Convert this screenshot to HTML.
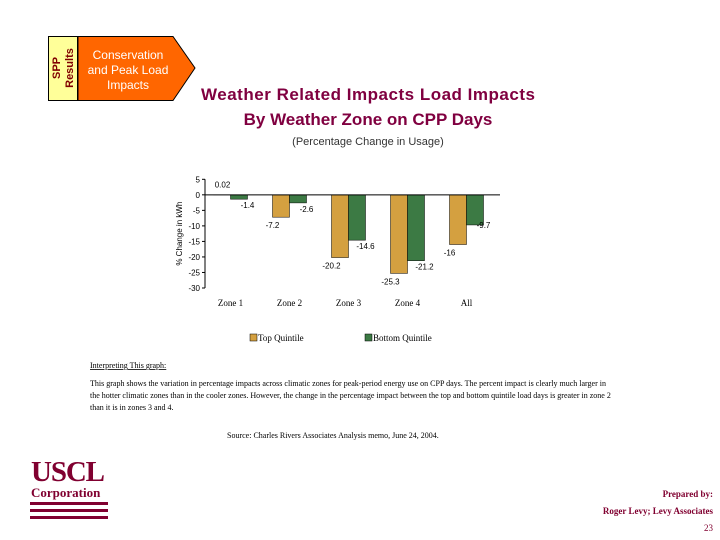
<!DOCTYPE html>
<html><head><meta charset="utf-8"><style>
body{margin:0;width:720px;height:540px;background:#fff;position:relative;overflow:hidden;font-family:"Liberation Sans",sans-serif}
.abs{position:absolute}
</style></head><body>
<svg class="abs" style="left:0;top:0" width="720" height="540">
 <g>
  <rect x="48.5" y="36.5" width="29" height="64" fill="#FFFF99" stroke="#000"/>
  <polygon points="78,36.5 173,36.5 195,68 173,100.5 78,100.5" fill="#FF6600" stroke="#000"/>
  <text transform="translate(60,68) rotate(-90)" text-anchor="middle" font-size="11" font-weight="bold" fill="#800000">SPP</text>
  <text transform="translate(73,68) rotate(-90)" text-anchor="middle" font-size="11" font-weight="bold" fill="#800000">Results</text>
  <text x="128" y="59" text-anchor="middle" font-size="12" fill="#fff">Conservation</text>
  <text x="128" y="74" text-anchor="middle" font-size="12" fill="#fff">and Peak Load</text>
  <text x="128" y="89" text-anchor="middle" font-size="12" fill="#fff">Impacts</text>
 </g>
 <text x="368" y="100" text-anchor="middle" font-size="17" font-weight="bold" fill="#800040" textLength="334">Weather Related Impacts Load Impacts</text>
 <text x="368" y="125" text-anchor="middle" font-size="17" font-weight="bold" fill="#800040">By Weather Zone on CPP Days</text>
 <text x="368" y="145" text-anchor="middle" font-size="11" fill="#333">(Percentage Change in Usage)</text>
 <g id="chart"></g>
 <text x="90" y="368" font-size="8" text-decoration="underline" font-family="Liberation Serif">Interpreting This graph:</text>
 <text x="90" y="386" font-size="8" font-family="Liberation Serif">This graph shows the variation in percentage impacts across climatic zones for peak-period energy use on CPP days.  The percent impact is clearly much larger in</text>
 <text x="90" y="398" font-size="8" font-family="Liberation Serif">the hotter climatic zones than in the cooler zones.  However, the change in the percentage impact between the top and bottom quintile load days is greater in zone 2</text>
 <text x="90" y="410" font-size="8" font-family="Liberation Serif">than it is in zones 3 and 4.</text>
 <text x="227" y="438" font-size="8" font-family="Liberation Serif">Source:  Charles Rivers Associates Analysis memo, June 24, 2004.</text>
 <g>
  <text x="31" y="481" font-size="29" font-weight="bold" fill="#800030" font-family="Liberation Serif" textLength="74">USCL</text>
  <text x="31" y="497" font-size="13" font-weight="bold" fill="#800030" font-family="Liberation Serif">Corporation</text>
  <rect x="30" y="502" width="78" height="3" fill="#800030"/>
  <rect x="30" y="509" width="78" height="3" fill="#800030"/>
  <rect x="30" y="516" width="78" height="3" fill="#800030"/>
 </g>
 <text x="713" y="497" text-anchor="end" font-size="9" font-weight="bold" fill="#800030" font-family="Liberation Serif">Prepared by:</text>
 <text x="713" y="514" text-anchor="end" font-size="9" font-weight="bold" fill="#800030" font-family="Liberation Serif">Roger Levy; Levy Associates</text>
 <text x="713" y="531" text-anchor="end" font-size="9" fill="#800030" font-family="Liberation Serif">23</text>
</svg>
<script>
const categories=["Zone 1","Zone 2","Zone 3","Zone 4","All"];
const topQuintile=[0.02,-7.2,-20.2,-25.3,-16];
const bottomQuintile=[-1.4,-2.6,-14.6,-21.2,-9.7];
const topLabels=["0.02","-7.2","-20.2","-25.3","-16"];
const bottomLabels=["-1.4","-2.6","-14.6","-21.2","-9.7"];
const yTicks=[5,0,-5,-10,-15,-20,-25,-30];
const NS="http://www.w3.org/2000/svg";
const g=document.getElementById('chart');
const x0=205,x1=500,yTop=179.3,yBot=288;
const y=v=>yTop+(5-v)*(yBot-yTop)/35;
const bw=(x1-x0)/categories.length;
const cx=i=>x0+bw*(i+0.5)-4;
const barW=17;
function el(t,a){const e=document.createElementNS(NS,t);for(const k in a)e.setAttribute(k,a[k]);g.appendChild(e);return e;}
function txt(x,yy,s,a){const e=el('text',Object.assign({x:x,y:yy,'font-size':8},a||{}));e.textContent=s;return e;}
const ax=el('line',{x1:x0,y1:yTop,x2:x0,y2:yBot,stroke:'#000'});


yTicks.forEach(v=>{
 el('line',{x1:x0-3,y1:y(v),x2:x0,y2:y(v),stroke:'#000'});
 const t=txt(x0-5,y(v)+3,String(v),{'text-anchor':'end'});
 
 
});
const yt=txt(0,0,'% Change in kWh',{transform:`translate(182,${(yTop+yBot)/2}) rotate(-90)`,'text-anchor':'middle','font-size':8});


categories.forEach((c,i)=>{
 const tv=topQuintile[i],bv=bottomQuintile[i];
 const r1=el('rect',{x:cx(i)-barW,y:Math.min(y(0),y(tv)),width:barW,height:Math.abs(y(tv)-y(0)),fill:'#D4A040',stroke:'#000','stroke-width':0.5});
 
 
 const r2=el('rect',{x:cx(i),y:Math.min(y(0),y(bv)),width:barW,height:Math.abs(y(bv)-y(0)),fill:'#3C7A44',stroke:'#000','stroke-width':0.5});
 
 
 const l1=txt(tv>=0?cx(i)-8:cx(i)-barW,(tv>=0?y(5)+8:y(tv)+11),topLabels[i],{'text-anchor':'middle'});
 
 
 const l2=txt(cx(i)+barW,y(bv)+(i===4?3:9),bottomLabels[i],{'text-anchor':'middle'});
 
 
 const cl=txt(cx(i),306,c,{'text-anchor':'middle','font-family':'Liberation Serif','font-size':9});
 
 
});
const zl=el('line',{x1:x0,y1:y(0),x2:x1,y2:y(0),stroke:'#000'});


const lg1=el('rect',{x:250,y:334,width:7,height:7,fill:'#D4A040',stroke:'#000','stroke-width':0.5});


const lt1=txt(258,341,'Top Quintile',{'font-family':'Liberation Serif','font-size':9});


const lg2=el('rect',{x:365,y:334,width:7,height:7,fill:'#3C7A44',stroke:'#000','stroke-width':0.5});


const lt2=txt(373,341,'Bottom Quintile',{'font-family':'Liberation Serif','font-size':9});


</script>
</body></html>
